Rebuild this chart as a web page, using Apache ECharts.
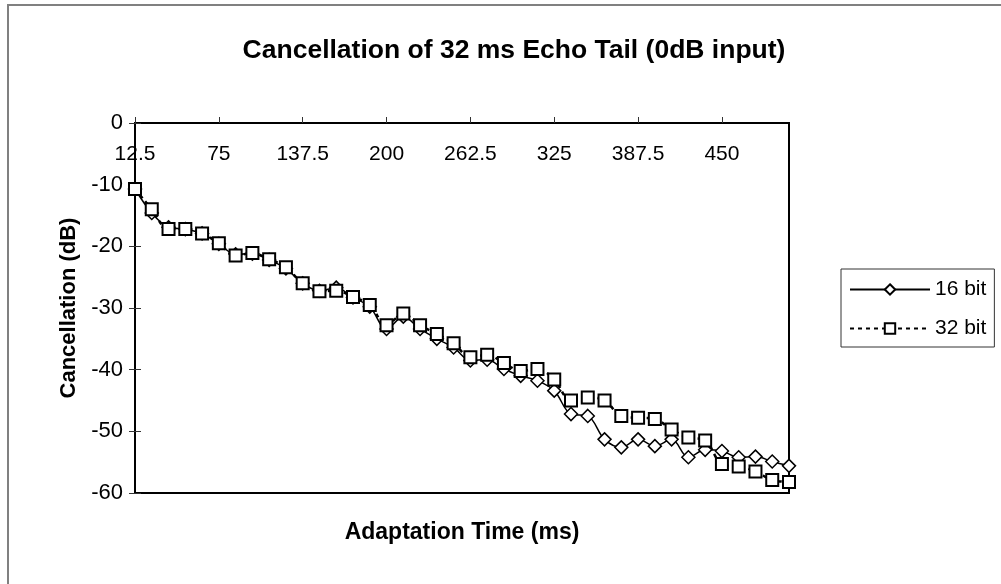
<!DOCTYPE html>
<html>
<head>
<meta charset="utf-8">
<title>Cancellation of 32 ms Echo Tail</title>
<script src="https://cdn.jsdelivr.net/npm/echarts@6/dist/echarts.min.js"></script>
<style>
    html, body { margin: 0; padding: 0; background: #fff; }
    #chart { width: 1001px; height: 584px; }
</style>
</head>
<body>
<div id="chart"></div>
<script>
// adaptation time in ms, one point every 12.5 ms
const times = ['12.5', '25', '37.5', '50', '62.5', '75', '87.5', '100', '112.5', '125',
    '137.5', '150', '162.5', '175', '187.5', '200', '212.5', '225', '237.5', '250',
    '262.5', '275', '287.5', '300', '312.5', '325', '337.5', '350', '362.5', '375',
    '387.5', '400', '412.5', '425', '437.5', '450', '462.5', '475', '487.5', '500'];

// cancellation in dB
const bit16 = [-10.7, -14.6, -16.9, -17.2, -17.9, -19.6, -21.3, -21.2, -22.2, -23.6,
    -26.0, -27.2, -26.7, -28.3, -29.8, -33.4, -31.4, -33.4, -35.0, -36.4,
    -38.5, -38.4, -39.9, -41.0, -41.8, -43.4, -47.2, -47.5, -51.3, -52.6,
    -51.3, -52.4, -51.3, -54.2, -53.0, -53.2, -54.2, -54.1, -54.9, -55.6];

const bit32 = [-10.7, -14.0, -17.2, -17.2, -17.9, -19.5, -21.5, -21.1, -22.1, -23.4,
    -26.0, -27.3, -27.2, -28.2, -29.5, -32.8, -30.9, -32.8, -34.2, -35.7,
    -38.0, -37.6, -38.9, -40.2, -39.9, -41.6, -45.0, -44.5, -45.0, -47.5,
    -47.8, -48.0, -49.7, -51.0, -51.5, -55.3, -55.7, -56.5, -57.9, -58.2];

const font = 'Liberation Sans, Arial, sans-serif';

const chart = echarts.init(document.getElementById('chart'));
chart.setOption({
    animation: false,
    backgroundColor: '#fff',
    textStyle: { fontFamily: font, color: '#000' },
    title: {
        text: 'Cancellation of 32 ms Echo Tail (0dB input)',
        left: 509,
        top: 32,
        textAlign: 'center',
        textStyle: { fontFamily: font, fontSize: 26.5, fontWeight: 'bold', color: '#000' }
    },
    graphic: [{
        type: 'rect',
        shape: { x: 8, y: 5, width: 1010, height: 600 },
        style: { fill: 'none', stroke: '#808080', lineWidth: 2 },
        silent: true
    }],
    legend: {
        orient: 'vertical',
        left: 841,
        top: 269,
        padding: [10, 8, 8, 8],
        itemGap: 18,
        itemWidth: 80,
        itemHeight: 13,
        borderColor: '#333',
        borderWidth: 1,
        textStyle: { fontFamily: font, fontSize: 21, color: '#000' },
        data: ['16 bit', '32 bit']
    },
    grid: {
        left: 135,
        top: 123,
        right: 212,
        bottom: 91,
        show: true,
        borderColor: '#000',
        borderWidth: 2
    },
    xAxis: [{
        type: 'category',
        position: 'top',
        data: times,
        boundaryGap: false,
        axisLine: { lineStyle: { color: '#000', width: 2 } },
        axisTick: { interval: 4, length: 6, lineStyle: { color: '#333' } },
        axisLabel: {
            interval: 4,
            inside: true,
            margin: 21,
            fontSize: 21,
            fontFamily: font,
            color: '#000'
        },
        splitLine: { show: false }
    }, {
        type: 'category',
        position: 'bottom',
        data: times,
        boundaryGap: false,
        axisLine: { show: false },
        axisTick: { show: false },
        axisLabel: { show: false },
        name: 'Adaptation Time (ms)',
        nameLocation: 'middle',
        nameGap: 28,
        nameTextStyle: { fontFamily: font, fontSize: 23, fontWeight: 'bold', color: '#000' }
    }],
    yAxis: [{
        type: 'value',
        min: -60,
        max: 0,
        interval: 10,
        axisLine: { show: true, lineStyle: { color: '#000', width: 2 } },
        axisTick: { show: true, length: 6, lineStyle: { color: '#333' } },
        axisLabel: { margin: 12, fontSize: 22, fontFamily: font, color: '#000' },
        splitLine: { show: false },
        name: 'Cancellation (dB)',
        nameLocation: 'middle',
        nameGap: 54,
        nameTextStyle: { fontFamily: font, fontSize: 22, fontWeight: 'bold', color: '#000' }
    }, {
        // inner half of the crossing ticks
        type: 'value',
        position: 'left',
        min: -60,
        max: 0,
        interval: 10,
        axisLine: { show: false },
        axisTick: { show: true, inside: true, length: 6, lineStyle: { color: '#333' } },
        axisLabel: { show: false },
        splitLine: { show: false }
    }],
    series: [{
        name: '16 bit',
        type: 'line',
        data: bit16,
        smooth: 0.35,
        symbol: 'diamond',
        symbolSize: [13, 13],
        showAllSymbol: true,
        lineStyle: { color: '#000', width: 1.5 },
        itemStyle: { color: '#fff', borderColor: '#000', borderWidth: 1.5 }
    }, {
        name: '32 bit',
        type: 'line',
        data: bit32,
        smooth: 0.35,
        symbol: 'rect',
        symbolSize: 12,
        showAllSymbol: true,
        lineStyle: { color: '#000', width: 2.5, type: [4, 4] },
        itemStyle: { color: '#fff', borderColor: '#000', borderWidth: 2 }
    }]
});
</script>
</body>
</html>
